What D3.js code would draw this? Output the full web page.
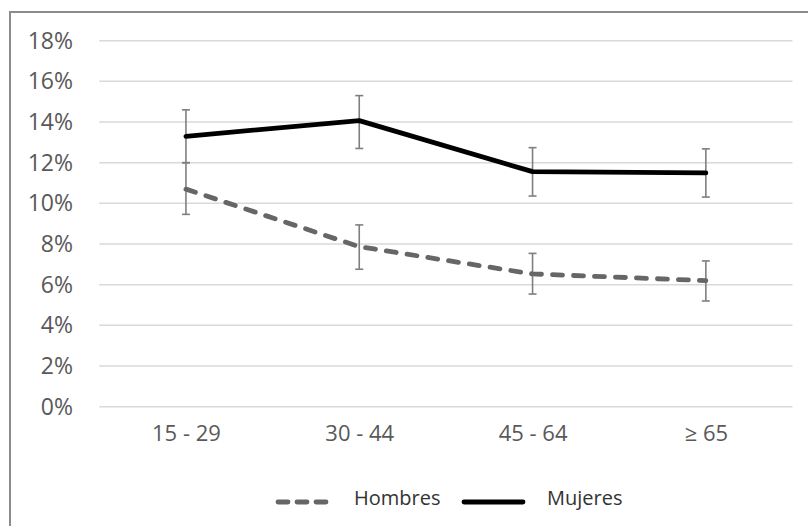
<!DOCTYPE html>
<html>
<head>
<meta charset="utf-8">
<script src="https://cdn.jsdelivr.net/npm/d3@7"></script>
<style>
   body { margin: 0; background: #fff; }
   svg { display: block; font-family: "Open Sans", sans-serif; }
</style>
</head>
<body>
<div id="chart"></div>
<script>
// Catégories d'âge (axe x)
const categories = ["15 - 29", "30 - 44", "45 - 64", "≥ 65"]

// Valeurs des séries (proportions)
const hombres = [0.107, 0.0787, 0.0653, 0.062]
const hombresLow = [0.0946, 0.0676, 0.0554, 0.052]
const hombresHigh = [0.120, 0.0894, 0.0754, 0.0717]

const mujeres = [0.133, 0.1407, 0.1156, 0.115]
const mujeresLow = [0.120, 0.127, 0.1036, 0.1031]
const mujeresHigh = [0.146, 0.153, 0.1274, 0.1268]

// Graduations de l'axe y
const yTicks = [0, 0.02, 0.04, 0.06, 0.08, 0.10, 0.12, 0.14, 0.16, 0.18]

const series = [
   {name: "Hombres", values: hombres, low: hombresLow, high: hombresHigh, color: "#666666", dash: "10,11"},
   {name: "Mujeres", values: mujeres, low: mujeresLow, high: mujeresHigh, color: "#000000", dash: null}
]

const width = 808, height = 526
const svg = d3.select("#chart")
   .append("svg")
   .attr("width", width)
   .attr("height", height)

// Cadre (bord gauche et haut seulement, l'image est coupée)
svg.append("path")
   .attr("d", `M10,${height} L10,12 L${width},12`)
   .attr("fill", "none")
   .attr("stroke", "#8c8c8c")
   .attr("stroke-width", 2)

const x = d3.scalePoint()
   .domain(categories)
   .range([99.3, 792.5])
   .padding(0.5)

const y = d3.scaleLinear()
   .domain([0, 0.18])
   .range([406.7, 40.7])

// Lignes de grille
svg.append("g")
   .selectAll("line")
   .data(yTicks)
   .join("line")
   .attr("x1", 99.3)
   .attr("x2", 792.5)
   .attr("y1", d => y(d))
   .attr("y2", d => y(d))
   .attr("stroke", "#d9d9d9")
   .attr("stroke-width", 1.5)

// Axe y (texte seulement)
const yAxis = svg.append("g")
   .attr("transform", "translate(73,0)")
   .call(d3.axisLeft(y).tickValues(yTicks).tickFormat(d3.format(".0%")).tickSize(0).tickPadding(0))
yAxis.select(".domain").remove()
yAxis.selectAll("text")
   .attr("fill", "#595959")
   .style("font-size", "23px")
   .style("font-family", "Open Sans")

// Axe x (texte seulement)
const xAxis = svg.append("g")
   .attr("transform", "translate(0,420)")
   .call(d3.axisBottom(x).tickSize(0).tickPadding(0))
xAxis.select(".domain").remove()
xAxis.selectAll("text")
   .attr("fill", "#595959")
   .attr("dy", "0.95em")
   .style("font-size", "22px")
   .style("font-family", "Open Sans")

// Barres d'erreur
const cap = 4
for (let s of series) {
   const g = svg.append("g")
      .attr("stroke", "#7f7f7f")
      .attr("stroke-width", 1.6)
   categories.forEach((c, i) => {
      const cx = x(c)
      g.append("line").attr("x1", cx).attr("x2", cx).attr("y1", y(s.low[i])).attr("y2", y(s.high[i]))
      g.append("line").attr("x1", cx - cap).attr("x2", cx + cap).attr("y1", y(s.low[i])).attr("y2", y(s.low[i]))
      g.append("line").attr("x1", cx - cap).attr("x2", cx + cap).attr("y1", y(s.high[i])).attr("y2", y(s.high[i]))
   })
}

// Lignes des séries
const line = d3.line()
   .x((d, i) => x(categories[i]))
   .y(d => y(d))

for (let s of series) {
   svg.append("path")
      .datum(s.values)
      .attr("d", line)
      .attr("fill", "none")
      .attr("stroke", s.color)
      .attr("stroke-width", 4.8)
      .attr("stroke-linecap", "round")
      .attr("stroke-linejoin", "round")
      .attr("stroke-dasharray", s.dash)
}

// Légende
const legendItems = [
   {x1: 278, x2: 331, tx: 354},
   {x1: 464, x2: 523, tx: 547}
]
series.forEach((s, i) => {
   const it = legendItems[i]
   svg.append("line")
      .attr("x1", it.x1)
      .attr("x2", it.x2)
      .attr("y1", 502)
      .attr("y2", 502)
      .attr("stroke", s.color)
      .attr("stroke-width", 4.8)
      .attr("stroke-linecap", "round")
      .attr("stroke-dasharray", s.dash ? "10,9" : null)
   svg.append("text")
      .attr("x", it.tx)
      .attr("y", 505)
      .attr("fill", "#333333")
      .style("font-size", "20px")
      .text(s.name)
})
</script>
</body>
</html>
